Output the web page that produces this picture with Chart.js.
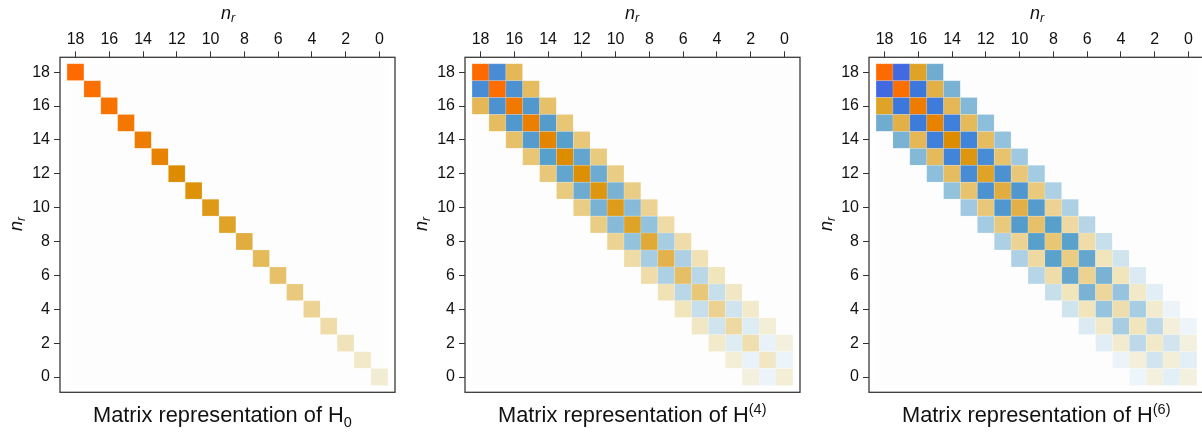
<!DOCTYPE html>
<html>
<head>
<meta charset="utf-8">
<title>Matrix representation</title>
<script src="https://cdn.jsdelivr.net/npm/chart.js@4"></script>
<style>
    html, body { margin: 0; padding: 0; background: #fff; }
    body { position: relative; width: 1202px; height: 432px; overflow: hidden; font-family: "Liberation Sans", Arial, sans-serif; color: #111; }
    canvas { position: absolute; top: 0; }
    .label { position: absolute; white-space: nowrap; line-height: 1; }
    .axis { font-size: 18px; font-style: italic; transform: translate(-50%, -50%); }
    .axis.side { transform: translate(-50%, -50%) rotate(-90deg); }
    .axis sub { font-size: 12.5px; line-height: 0; vertical-align: -3px; }
    .caption { font-size: 21.8px; top: 404px; }
    .caption sub, .caption sup { font-size: 14.5px; line-height: 0; }
</style>
</head>
<body>
<canvas id="chart-h0"></canvas>
<canvas id="chart-h4"></canvas>
<canvas id="chart-h6"></canvas>

<div class="label axis" style="left:228px;top:13px">n<sub>r</sub></div>
<div class="label axis side" style="left:16px;top:224px">n<sub>r</sub></div>
<div class="label caption" style="left:93px">Matrix representation of H<sub>0</sub></div>

<div class="label axis" style="left:632px;top:13px">n<sub>r</sub></div>
<div class="label axis side" style="left:421px;top:224px">n<sub>r</sub></div>
<div class="label caption" style="left:498px">Matrix representation of H<sup>(4)</sup></div>

<div class="label axis" style="left:1037px;top:13px">n<sub>r</sub></div>
<div class="label axis side" style="left:826px;top:224px">n<sub>r</sub></div>
<div class="label caption" style="left:902px">Matrix representation of H<sup>(6)</sup></div>

<script>
// Valores, de n=18 hacia n=0 (positivo naranja, negativo azul)
const tickValues = [18, 16, 14, 12, 10, 8, 6, 4, 2, 0];

const h0Main = [1, .96, .93, .9, .86, .79, .7, .67, .63, .58, .52, .46, .43, .39, .33, .26, .19, .15, .12];

const h4Main = [1, .98, .88, .84, .77, .7, .68, .65, .62, .58, .54, .49, .44, .4, .34, .29, .23, .16, .11];
const h4Off1 = [-.75, -.71, -.66, -.63, -.6, -.56, -.51, -.47, -.43, -.39, -.33, -.31, -.27, -.23, -.2, -.14, -.1, -.08];
const h4Off2 = [.47, .45, .43, .41, .4, .38, .37, .37, .33, .27, .26, .2, .18, .16, .14, .11, .09];

const h6Main = [1, .96, .86, .79, .7, .65, .58, .52, .5, .43, .41, .37, .34, .31, .24, .18, .15, .11, .09];
const h6Off1 = [-1, -.9, -.87, -.84, -.8, -.75, -.71, -.67, -.63, -.6, -.59, -.55, -.47, -.38, -.33, -.26, -.19, -.12];
const h6Off2 = [.58, .5, .47, .46, .45, .42, .4, .39, .33, .29, .26, .18, .18, .15, .13, .1, .09];
const h6Off3 = [-.5, -.47, -.44, -.41, -.39, -.35, -.34, -.31, -.31, -.28, -.23, -.2, -.15, -.13, -.08, -.07];

// Escalas de color
const orangeStops = [[0, 253, 253, 253], [.1, 243, 239, 218], [.2, 240, 226, 181], [.3, 238, 216, 160], [.4, 232, 200, 120],
    [.5, 227, 176, 72], [.6, 222, 160, 32], [.7, 221, 140, 0], [.85, 237, 125, 0], [1, 255, 106, 0]];
const blueStops = [[0, 253, 253, 253], [.1, 232, 242, 248], [.2, 208, 228, 238], [.3, 176, 210, 229], [.4, 144, 192, 220],
    [.5, 112, 172, 208], [.6, 88, 160, 204], [.7, 77, 147, 208], [.8, 64, 133, 218], [.9, 60, 120, 220], [1, 65, 105, 225]];

function cellColor(v) {
    const stops = v < 0 ? blueStops : orangeStops;
    const a = Math.abs(v);
    for (let i = 1; i < stops.length; i++) {
        if (a <= stops[i][0]) {
            const p = stops[i - 1], q = stops[i];
            const f = (a - p[0]) / (q[0] - p[0]);
            const mix = k => Math.round(p[k] + (q[k] - p[k]) * f);
            return `rgb(${mix(1)},${mix(2)},${mix(3)})`;
        }
    }
    return 'rgb(255,106,0)';
}

// Arma la matriz completa de 19x19 a partir de sus diagonales
function buildCells(diagonals) {
    const cells = [];
    for (let row = 18; row >= 0; row--) {
        for (let col = 18; col >= 0; col--) {
            const d = Math.abs(row - col);
            const list = diagonals[d];
            const v = list ? list[18 - Math.max(row, col)] : 0;
            cells.push({ x: col, y: row, v: v });
        }
    }
    return cells;
}

// Marco completo alrededor del area de la grafica
const framePlugin = {
    id: 'frame',
    afterDraw(chart) {
        const a = chart.chartArea;
        const c = chart.ctx;
        c.save();
        c.strokeStyle = '#3a3a3a';
        c.lineWidth = 1.3;
        c.strokeRect(a.left, a.top, a.right - a.left, a.bottom - a.top);
        c.restore();
    }
};

function makeChart(id, left, diagonals) {
    const canvas = document.getElementById(id);
    canvas.style.left = left + 'px';
    canvas.width = 400;
    canvas.height = 432;

    const useTicks = scale => { scale.ticks = tickValues.map(v => ({ value: v })); };
    const tickFont = { family: '"Liberation Sans", Arial, sans-serif', size: 16 };

    return new Chart(canvas.getContext('2d'), {
        type: 'scatter',
        data: {
            datasets: [{
                data: buildCells(diagonals),
                pointStyle: 'rect',
                pointBackgroundColor: ctx => cellColor(ctx.raw.v),
                // borde claro muy suave, como en el original
                pointBorderColor: 'rgba(255,255,255,0.15)',
                pointBorderWidth: 1,
                // lado de la celda = una unidad de datos
                pointRadius: ctx => {
                    const y = ctx.chart.scales.y;
                    return Math.abs(y.getPixelForValue(1) - y.getPixelForValue(0)) * Math.SQRT1_2;
                }
            }]
        },
        options: {
            responsive: false,
            animation: false,
            events: [],
            layout: { padding: { right: 5, bottom: 39.7 } },
            plugins: { legend: { display: false }, tooltip: { enabled: false } },
            scales: {
                x: {
                    type: 'linear',
                    position: 'top',
                    reverse: true,
                    min: -0.92,
                    max: 18.92,
                    afterBuildTicks: useTicks,
                    afterFit: scale => { scale.height = 57.3; },
                    grid: { drawOnChartArea: false, drawTicks: true, tickLength: 6, color: '#333', tickWidth: 1 },
                    border: { display: false },
                    ticks: { color: '#111', font: tickFont, padding: 2, maxRotation: 0, autoSkip: false }
                },
                y: {
                    type: 'linear',
                    min: -0.9,
                    max: 18.88,
                    afterBuildTicks: useTicks,
                    afterFit: scale => { scale.width = 60; },
                    grid: { drawOnChartArea: false, drawTicks: true, tickLength: 6, color: '#333', tickWidth: 1 },
                    border: { display: false },
                    ticks: { color: '#111', font: tickFont, padding: 4, autoSkip: false }
                }
            }
        },
        plugins: [framePlugin]
    });
}

makeChart('chart-h0', 0, [h0Main]);
makeChart('chart-h4', 405, [h4Main, h4Off1, h4Off2]);
makeChart('chart-h6', 809, [h6Main, h6Off1, h6Off2, h6Off3]);
</script>
</body>
</html>
